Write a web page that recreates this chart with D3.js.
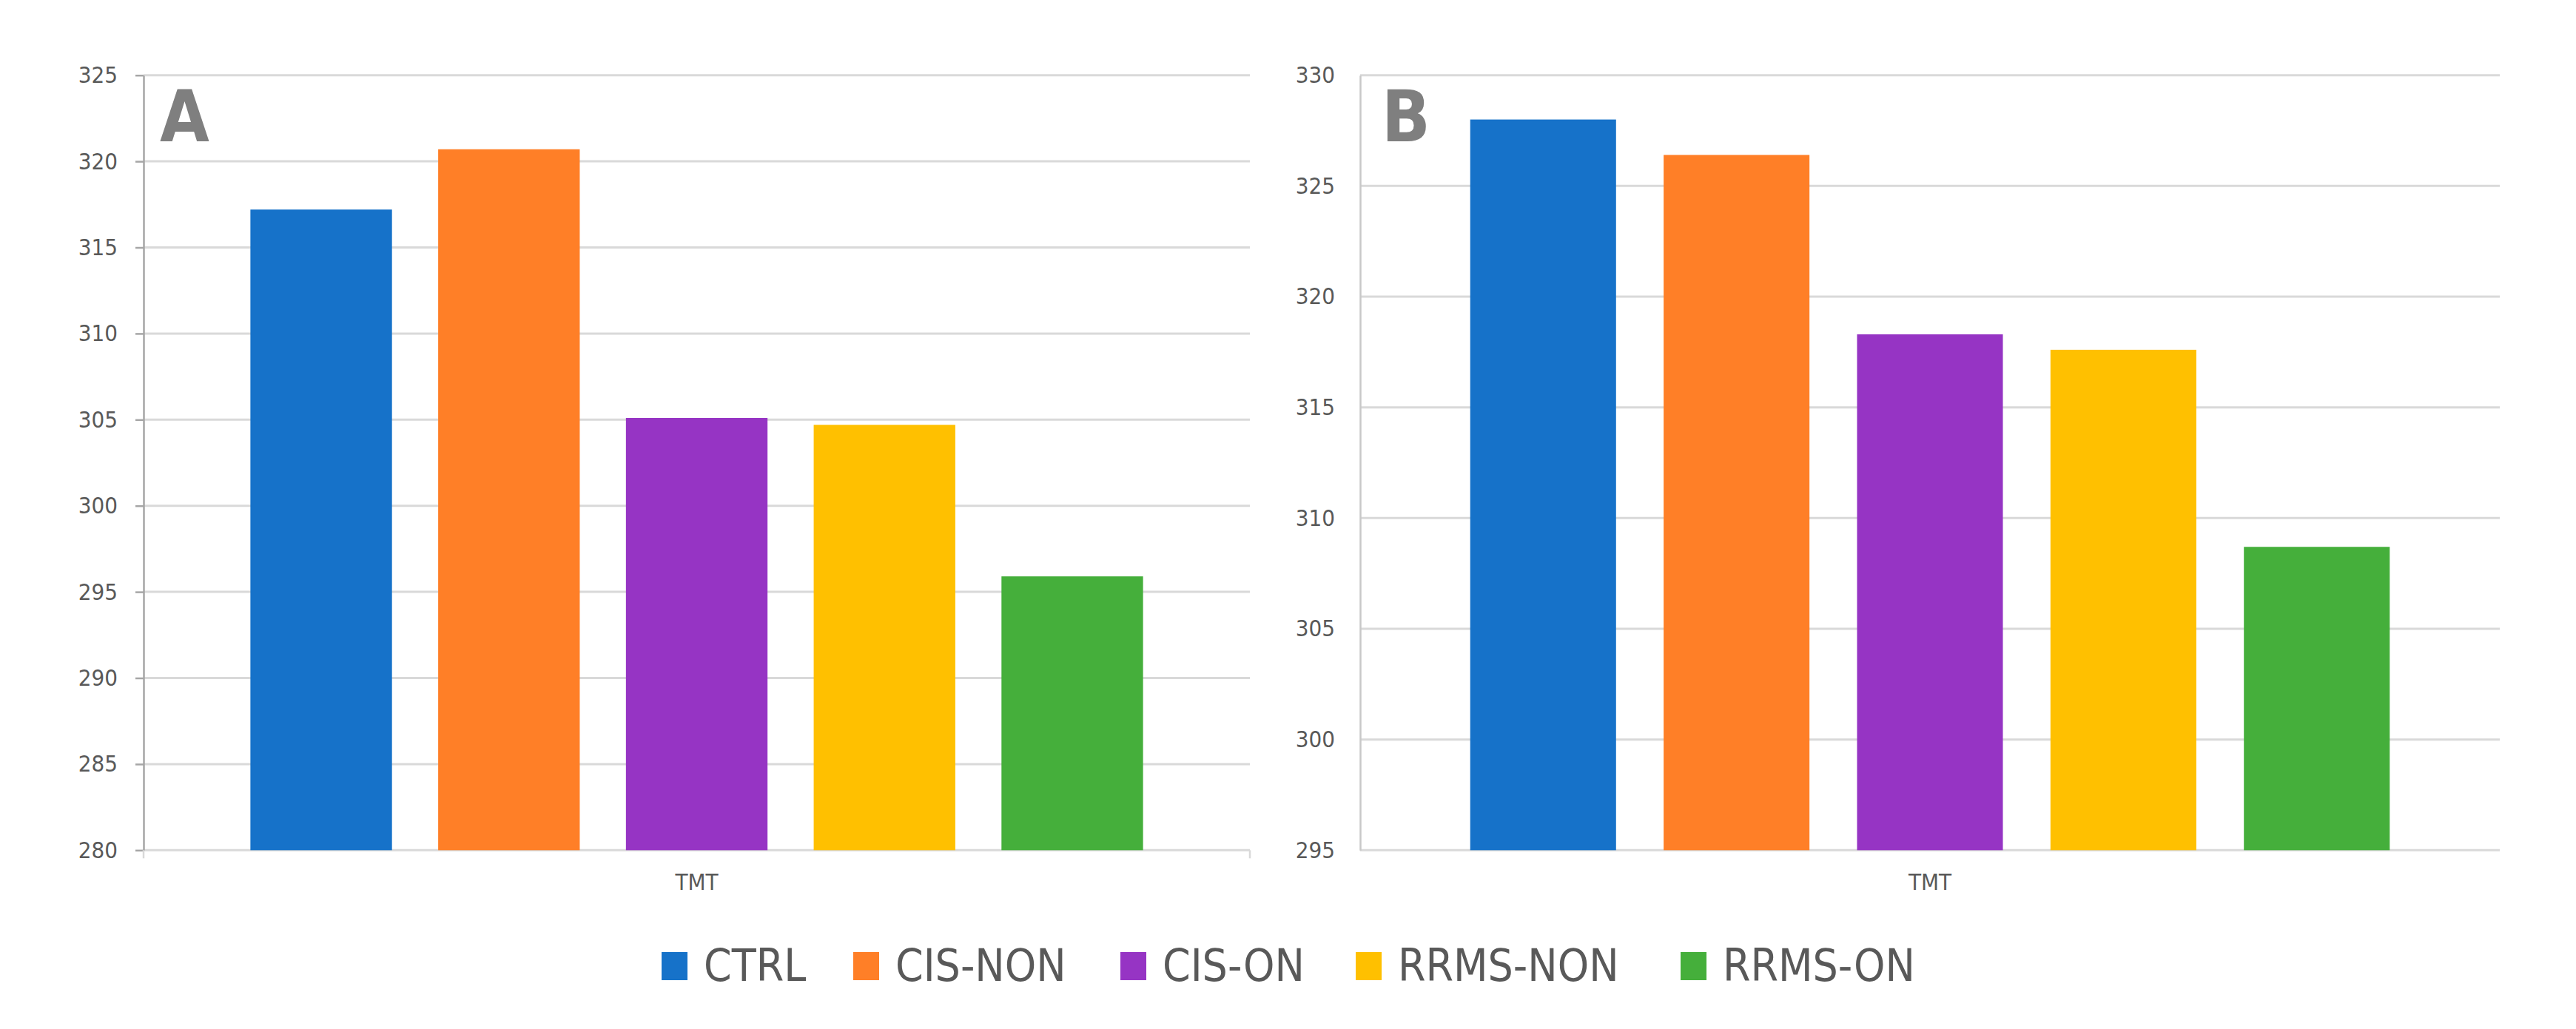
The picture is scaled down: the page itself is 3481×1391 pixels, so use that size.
<!DOCTYPE html>
<html>
<head>
<meta charset="utf-8">
<script src="https://cdn.jsdelivr.net/npm/d3@7"></script>
<style>
  body { margin: 0; background: #fff; }
  text { font-family: "Liberation Sans Narrow", "DejaVu Sans Condensed", sans-serif; fill: #595959; }
</style>
</head>
<body>
<svg id="chart" width="3481" height="1391"></svg>
<script>
// data
var series = ["CTRL", "CIS-NON", "CIS-ON", "RRMS-NON", "RRMS-ON"];
var colors = ["#1672c9", "#ff7f27", "#9634c4", "#ffc000", "#45af3b"];
var category = "TMT";
var valuesA = [317.2, 320.7, 305.1, 304.7, 295.9];
var valuesB = [328.0, 326.4, 318.3, 317.6, 308.7];
var ticksA = [280, 285, 290, 295, 300, 305, 310, 315, 320, 325];
var ticksB = [295, 300, 305, 310, 315, 320, 325, 330];

var svg = d3.select("#chart");
svg.append("rect").attr("width", 3481).attr("height", 1391).attr("fill", "#fff");

var plotTop = 101.7, plotBottom = 1149.3;

function panel(opts) {
	var g = svg.append("g");
	var y = d3.scaleLinear()
		.domain([opts.ticks[0], opts.ticks[opts.ticks.length - 1]])
		.range([plotBottom, plotTop]);
	var x = d3.scaleBand()
		.domain(series)
		.range([opts.x0, opts.x1])
		.paddingInner(0.246)
		.paddingOuter(0.569);

	// gridlines
	g.append("g").selectAll("line")
		.data(opts.ticks)
		.enter().append("line")
		.attr("x1", opts.x0).attr("x2", opts.x1)
		.attr("y1", function (d) { return y(d); })
		.attr("y2", function (d) { return y(d); })
		.attr("stroke", "#d9d9d9")
		.attr("stroke-width", 3);

	// y axis through d3
	var axis = d3.axisLeft(y).tickValues(opts.ticks)
		.tickSize(opts.tickLen).tickPadding(opts.pad).tickSizeOuter(0);
	var ax = g.append("g").attr("transform", "translate(" + opts.x0 + ",0)").call(axis);
	ax.select(".domain").attr("stroke", opts.axisColor).attr("stroke-width", 2.5);
	ax.selectAll(".tick line").attr("stroke", opts.axisColor).attr("stroke-width", 2.5);
	ax.selectAll(".tick text")
		.style("font-family", "'Liberation Sans Narrow', 'DejaVu Sans Condensed', sans-serif")
		.style("font-size", "31px")
		.attr("fill", "#595959");

	if (opts.tickLen > 0) { // little ticks under the category axis
		g.selectAll(".catTick")
			.data([opts.x0, opts.x1])
			.enter().append("line")
			.attr("x1", function (d) { return d; }).attr("x2", function (d) { return d; })
			.attr("y1", plotBottom).attr("y2", plotBottom + 11)
			.attr("stroke", "#d9d9d9").attr("stroke-width", 2.5);
	}

	// bars
	g.append("g").selectAll("rect")
		.data(opts.values)
		.enter().append("rect")
		.attr("x", function (d, i) { return x(series[i]); })
		.attr("width", x.bandwidth())
		.attr("y", function (d) { return y(d); })
		.attr("height", function (d) { return y(opts.ticks[0]) - y(d); })
		.attr("fill", function (d, i) { return colors[i]; });

	g.append("text")
		.attr("x", (opts.x0 + opts.x1) / 2)
		.attr("y", 1203)
		.attr("text-anchor", "middle")
		.style("font-size", "31px")
		.text(category);

	g.append("text")
		.attr("x", opts.x0 + opts.letterDx)
		.attr("y", 191)
		.style("font-size", "96px")
		.style("font-weight", "bold")
		.style("fill", "#7f7f7f")
		.text(opts.letter);
}

panel({ x0: 194, x1: 1689, values: valuesA, ticks: ticksA, tickLen: 11, pad: 24,
	axisColor: "#a6a6a6", letter: "A", letterDx: 22 });
panel({ x0: 1838, x1: 3378, values: valuesB, ticks: ticksB, tickLen: 0, pad: 34,
	axisColor: "#c8c8c8", letter: "B", letterDx: 29 });

// legend: entry slots taken from the reference layout
var legendSlots = [894, 1153, 1514, 1832, 2271];
var legend = svg.append("g");
var items = legend.selectAll("g")
	.data(series)
	.enter().append("g")
	.attr("transform", function (d, i) { return "translate(" + legendSlots[i] + ",0)"; });
items.append("rect")
	.attr("width", 35).attr("height", 38)
	.attr("y", 1287)
	.attr("fill", function (d, i) { return colors[i]; });
items.append("text")
	.attr("x", 57)
	.attr("y", 1326)
	.style("font-size", "60px")
	.text(function (d) { return d; });
</script>
</body>
</html>
